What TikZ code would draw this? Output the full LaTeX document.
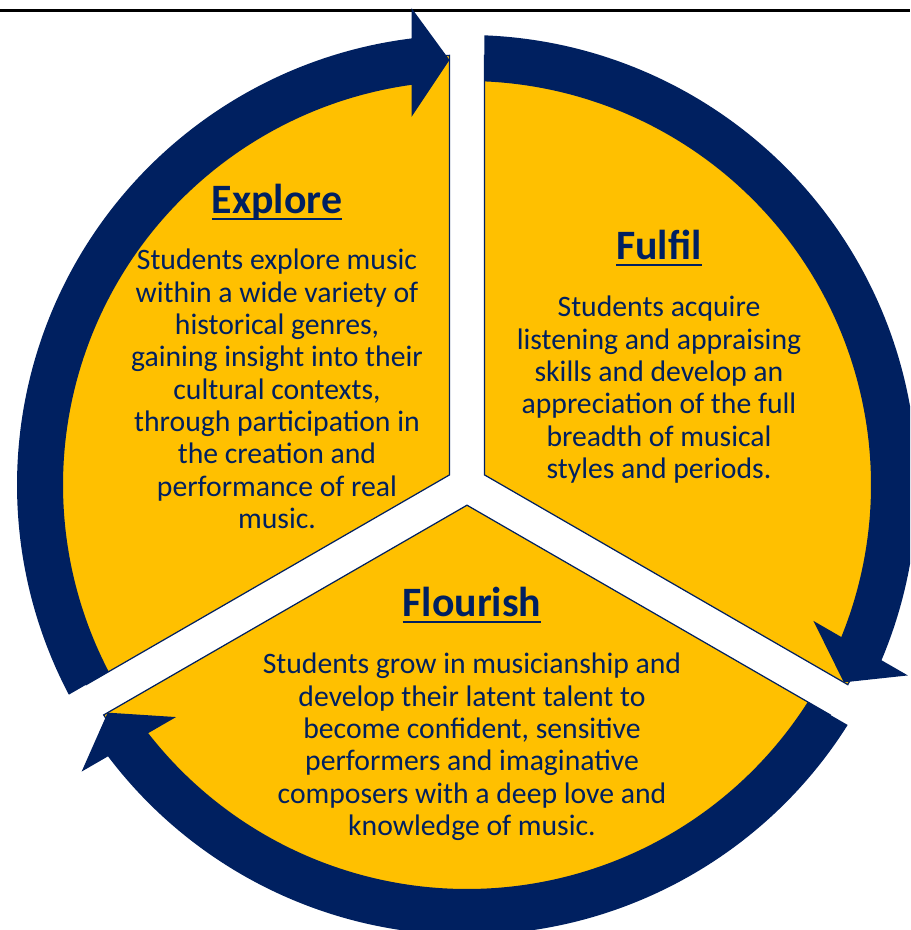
\documentclass[tikz,border=0pt]{standalone}
\usepackage{fontspec}
\setmainfont{Carlito}
\usepackage{tikz}
\definecolor{navy}{HTML}{002060}
\definecolor{gold}{HTML}{FFC000}
\newcommand{\ulword}[1]{\setbox0=\hbox{#1}\rlap{\rule[-3.4pt]{\wd0}{1.1pt}}\box0}

\begin{document}
\begin{tikzpicture}[
  slice/.style={fill=gold, draw=navy, line width=0.7pt},
  band/.style={fill=navy, draw=none},
  head/.style={font=\fontsize{23.8}{28}\selectfont\bfseries, text=navy, inner sep=0pt, anchor=base},
  body/.style={font=\fontsize{16.9}{18.4}\selectfont, text=navy, align=center, inner sep=0pt, anchor=north}
]
\useasboundingbox (-9.34,-8.90) rectangle (8.86,9.70);
\clip (-9.34,-8.90) rectangle (8.86,9.70);
\draw[line width=1.2pt] (-9.34,9.49) -- (8.86,9.49);
% one slice and its arrow, turned three times
\foreach \r in {0,-120,120} {
  \begin{scope}[rotate=\r]
    \path[slice] (150:0.404) -- ({90+asin(0.35/8.6)}:8.6)
      arc[start angle={90+asin(0.35/8.6)}, end angle={210-asin(0.35/8.6)}, radius=8.6] -- cycle;
    \fill[band] ({210-asin(0.35/9)}:9)
      arc[start angle={210-asin(0.35/9)}, end angle={90+asin(1.11/9)}, radius=9]
      -- (-1.11,9.54) -- (-0.35,8.5) -- (-1.11,7.36)
      -- ({90+asin(1.11/8.08)}:8.08)
      arc[start angle={90+asin(1.11/8.08)}, end angle={210-asin(0.35/8.08)}, radius=8.08] -- cycle;
  \end{scope}
}
\node[head] (explore) at (-3.80,5.42) {\ulword{Explore}};
\node[body] (exploretext) at (-3.80,4.72) {Students explore music\\within a wide variety of\\historical genres,\\gaining insight into their\\cultural contexts,\\through participation in\\the creation and\\performance of real\\music.};
\node[head] (fulfil) at (3.84,4.50) {\ulword{Fulfil}};
\node[body] (fulfiltext) at (3.84,3.78) {Students acquire\\listening and appraising\\skills and develop an\\appreciation of the full\\breadth of musical\\styles and periods.};
\node[head] (flourish) at (0.10,-2.64) {\ulword{Flourish}};
\node[body] (flourishtext) at (0.10,-3.36) {Students grow in musicianship and\\develop their latent talent to\\become confident, sensitive\\performers and imaginative\\composers with a deep love and\\knowledge of music.};
\end{tikzpicture}
\end{document}
